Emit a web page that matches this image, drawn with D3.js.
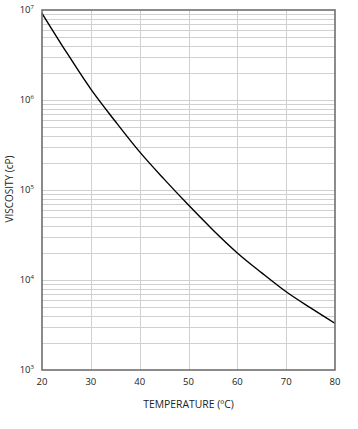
<!DOCTYPE html>
<html><head><meta charset="utf-8">
<script src="https://cdn.jsdelivr.net/npm/d3@7"></script>
<style>body{margin:0;background:#fff;} text{font-family:"Open Sans",Lato,sans-serif;}</style>
</head><body>
<svg id="c" width="358" height="429"></svg>
<script>
const temperatures = [20, 25, 30, 35, 40, 45, 50, 55, 60, 65, 70, 75, 80];
const viscosity = [9.2e6, 3.4e6, 1.32e6, 5.8e5, 2.65e5, 1.32e5, 6.8e4, 3.6e4, 2.0e4, 1.2e4, 7.4e3, 4.9e3, 3.3e3];
const xTicks = [20, 30, 40, 50, 60, 70, 80];
const yDecades = [3, 4, 5, 6, 7];
const xTitle = "TEMPERATURE (ºC)";
const yTitle = "VISCOSITY (cP)";

const svg = d3.select("#c");
const m = {l: 42, r: 23, t: 10, b: 59};
const W = 358, H = 429;
const x = d3.scaleLinear().domain([20, 80]).range([m.l, W - m.r]);
const y = d3.scaleLog().domain([1e3, 1e7]).range([H - m.b, m.t]);

// minor grid
const minor = [];
for (let d = 3; d < 7; d++) for (let k = 2; k <= 9; k++) minor.push(k * Math.pow(10, d));
const g = svg.append("g");
g.selectAll("line.h").data(minor.concat([1e4, 1e5, 1e6])).join("line")
  .attr("x1", m.l).attr("x2", W - m.r)
  .attr("y1", d => Math.round(y(d)) + 0.5).attr("y2", d => Math.round(y(d)) + 0.5)
  .attr("stroke", "#d0d0d0").attr("stroke-width", 1);
g.selectAll("line.v").data(xTicks.slice(1, -1)).join("line")
  .attr("y1", m.t).attr("y2", H - m.b)
  .attr("x1", d => Math.round(x(d)) + 0.5).attr("x2", d => Math.round(x(d)) + 0.5)
  .attr("stroke", "#d0d0d0").attr("stroke-width", 1);

// curve
const line = d3.line().x((d, i) => x(temperatures[i])).y(d => y(d)).curve(d3.curveMonotoneX);
svg.append("path").datum(viscosity).attr("d", line)
  .attr("fill", "none").attr("stroke", "#000").attr("stroke-width", 1.4);

// frame
svg.append("rect").attr("x", m.l).attr("y", m.t)
  .attr("width", W - m.r - m.l).attr("height", H - m.b - m.t)
  .attr("fill", "none").attr("stroke", "#6e6e6e").attr("stroke-width", 1.6);

// x tick labels
svg.append("g").selectAll("text").data(xTicks).join("text")
  .attr("x", d => x(d)).attr("y", H - m.b + 15)
  .attr("text-anchor", "middle").attr("font-size", 9.5).attr("fill", "#222")
  .text(d => d);

// y tick labels
const yl = svg.append("g").selectAll("text").data(yDecades).join("text")
  .attr("x", m.l - 8).attr("y", d => y(Math.pow(10, d)) + 3)
  .attr("text-anchor", "end").attr("font-size", 9.5).attr("fill", "#222");
yl.append("tspan").text("10");
yl.append("tspan").attr("font-size", 6).attr("dy", -4).text(d => d);

// titles
svg.append("text").attr("x", (m.l + W - m.r) / 2).attr("y", 408)
  .attr("text-anchor", "middle").attr("font-size", 10.4).attr("fill", "#222").text(xTitle);
svg.append("text").attr("transform", `translate(13,189) rotate(-90)`)
  .attr("text-anchor", "middle").attr("font-size", 10).attr("fill", "#222").text(yTitle);
</script>
</body></html>
